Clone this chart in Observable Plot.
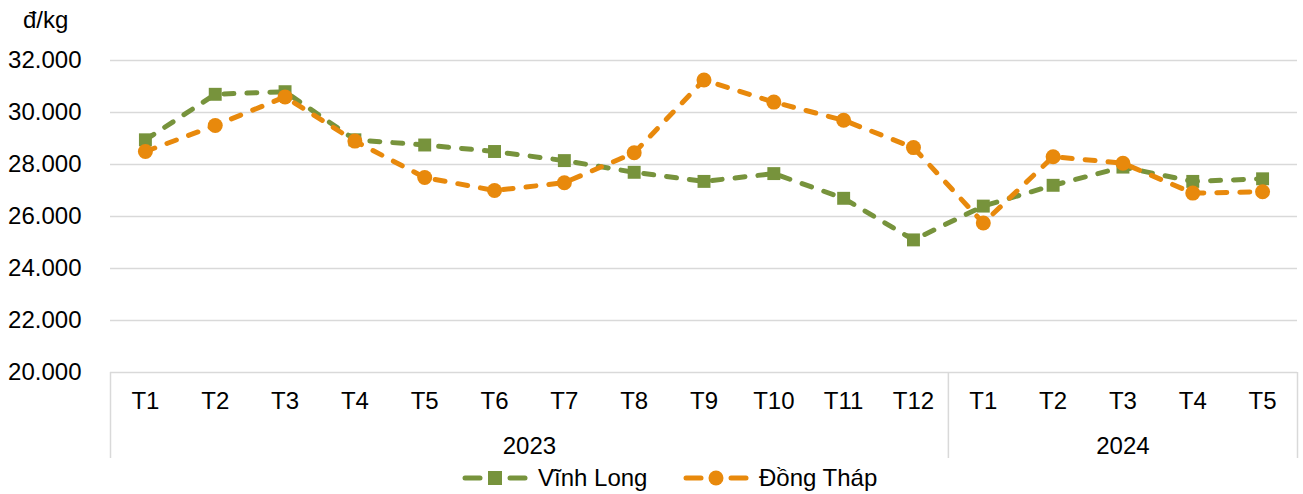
<!DOCTYPE html>
<html>
<head>
<meta charset="utf-8">
<script src="https://cdn.jsdelivr.net/npm/d3@7"></script>
<script src="https://cdn.jsdelivr.net/npm/@observablehq/plot@0.6"></script>
<style>
  body { margin: 0; background: #fff; font-family: 'Liberation Sans', Arial, sans-serif; color: #000; }
  #wrap { width: 1303px; }
  #title { height: 40px; line-height: 40px; font-size: 24px; padding-left: 23px; box-sizing: border-box; }
  #legend { height: 32px; display: flex; align-items: center; padding-left: 462px; font-size: 24px; }
  .item { display: flex; align-items: center; }
  .item svg { margin-right: 10px; }
</style>
</head>
<body>
<div id="wrap">
  <div id="title">đ/kg</div>
  <div id="chart"></div>
  <div id="legend"></div>
</div>
<script>
const months = ["T1","T2","T3","T4","T5","T6","T7","T8","T9","T10","T11","T12","T1","T2","T3","T4","T5"];
const years = ["2023","2023","2023","2023","2023","2023","2023","2023","2023","2023","2023","2023","2024","2024","2024","2024","2024"];
const vinhLong = [28950, 30700, 30800, 28950, 28750, 28500, 28150, 27700, 27350, 27650, 26700, 25100, 26400, 27200, 27900, 27350, 27450];
const dongThap = [28500, 29500, 30600, 28900, 27500, 27000, 27300, 28450, 31250, 30400, 29700, 28650, 25750, 28300, 28050, 26900, 26950];
const yTicks = [20000, 22000, 24000, 26000, 28000, 30000, 32000];
const seriesNames = ["Vĩnh Long", "Đồng Tháp"];
const green = "#77933C";
const orange = "#E8890C";

const idx = months.map((d, i) => i);
// year groups from the years array
const groups = [];
years.forEach((y, i) => {
  const g = groups[groups.length - 1];
  if (g && g.year === y) g.end = i + 1;
  else groups.push({year: y, start: i, end: i + 1});
});
const boundaries = [0, ...groups.map(g => g.end)];
const fmt = d => d3.format(",")(d).replace(/,/g, ".");

const dash = {strokeWidth: 5, strokeDasharray: "10,13", strokeLinecap: "round", strokeLinejoin: "round"};

const plot = Plot.plot({
  width: 1303,
  height: 422,
  marginTop: 20,
  marginBottom: 90,
  marginLeft: 110,
  marginRight: 6,
  style: {fontFamily: "'Liberation Sans', Arial, sans-serif", fontSize: "24px", color: "#000", background: "#fff", overflow: "visible"},
  x: {type: "linear", domain: [0, months.length], axis: null},
  y: {domain: [20000, 32000], axis: null},
  marks: [
    Plot.gridY(yTicks, {stroke: "#d9d9d9", strokeOpacity: 1, strokeWidth: 1.5}),
    Plot.axisY(yTicks, {tickSize: 0, tickPadding: 29, tickFormat: fmt, label: null, fill: "#000"}),
    Plot.ruleX(boundaries, {stroke: "#d9d9d9", strokeOpacity: 1, strokeWidth: 1.5, insetTop: 312, insetBottom: -86}),
    Plot.text(months, {x: (d, i) => i + 0.5, text: d => d, frameAnchor: "bottom", dy: 36, fill: "#000"}),
    Plot.text(groups, {x: g => (g.start + g.end) / 2, text: g => g.year, frameAnchor: "bottom", dy: 81, fill: "#000"}),
    Plot.line(idx, {x: i => i + 0.5, y: i => vinhLong[i], stroke: green, ...dash}),
    Plot.dot(idx, {x: i => i + 0.5, y: i => vinhLong[i], symbol: "square", r: 7.3, fill: green, stroke: "none"}),
    Plot.line(idx, {x: i => i + 0.5, y: i => dongThap[i], stroke: orange, ...dash}),
    Plot.dot(idx, {x: i => i + 0.5, y: i => dongThap[i], symbol: "circle", r: 7.5, fill: orange, stroke: "none"})
  ]
});
document.getElementById("chart").appendChild(plot);

// legend
const legend = document.getElementById("legend");
const colors = [green, orange];
const shapes = ["square", "circle"];
seriesNames.forEach((name, k) => {
  const item = document.createElement("div");
  item.className = "item";
  if (k === 0) item.style.width = "221px";
  const c = colors[k];
  const marker = shapes[k] === "square"
    ? `<rect x="26" y="1" width="14" height="14" fill="${c}"/>`
    : `<circle cx="33" cy="8" r="7.5" fill="${c}"/>`;
  item.innerHTML = `<svg width="66" height="16" viewBox="0 0 66 16">
    <line x1="3" y1="8" x2="18" y2="8" stroke="${c}" stroke-width="5" stroke-linecap="round"/>
    <line x1="48" y1="8" x2="63" y2="8" stroke="${c}" stroke-width="5" stroke-linecap="round"/>
    ${marker}</svg><span>${name}</span>`;
  legend.appendChild(item);
});
</script>
</body>
</html>
